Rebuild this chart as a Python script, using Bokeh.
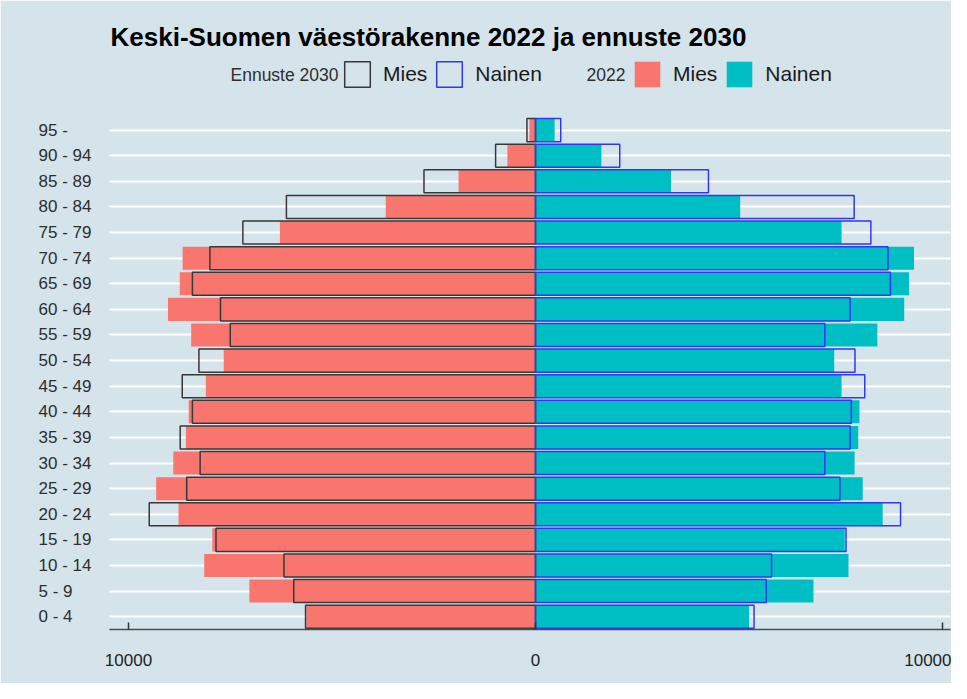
import numpy as np
from bokeh.plotting import figure
from bokeh.models import (ColumnDataSource, Legend, LegendItem, Label, LabelSet,
                          BoxAnnotation, FixedTicker, Range1d)
from bokeh.core.properties import value
from bokeh.embed import file_html
from bokeh.resources import INLINE

# ---- data ----
ages = ["0 - 4", "5 - 9", "10 - 14", "15 - 19", "20 - 24", "25 - 29", "30 - 34",
        "35 - 39", "40 - 44", "45 - 49", "50 - 54", "55 - 59", "60 - 64", "65 - 69",
        "70 - 74", "75 - 79", "80 - 84", "85 - 89", "90 - 94", "95 -"]

mies_2022 = [5630, 7030, 8140, 7940, 8770, 9320, 8900, 8590, 8520, 8100,
             7660, 8460, 9030, 8740, 8670, 6280, 3680, 1890, 690, 150]
nainen_2022 = [5250, 6830, 7690, 7600, 8530, 8040, 7840, 7930, 7960, 7520,
               7340, 8400, 9060, 9180, 9300, 7520, 5030, 3330, 1620, 470]
mies_2030 = [5650, 5940, 6180, 7850, 9490, 8570, 8240, 8730, 8430, 8680,
             8270, 7500, 7740, 8430, 8000, 7190, 6120, 2740, 980, 210]
nainen_2030 = [5370, 5670, 5800, 7630, 8970, 7480, 7110, 7730, 7760, 8090,
               7850, 7110, 7730, 8720, 8660, 8240, 7830, 4250, 2070, 620]

x_ticks = [-10000, 0, 10000]
x_tick_labels = ["10000", "0", "10000"]

title_text = "Keski-Suomen väestörakenne 2022 ja ennuste 2030"
legend_title_2030 = "Ennuste 2030"
legend_title_2022 = "2022"
sex_labels = ["Mies", "Nainen"]

# ---- styling / layout ----
BG = "#d5e3eb"
FONT = "Liberation Sans"
RED = "#F8766D"
TEAL = "#00BFC4"
PANEL_X = (-10467, 10197)      # extent of the bar panel (axis line, grid lines)
LABEL_SPACE_X = -12408         # frame extends left to hold the category labels

ypos = list(range(len(ages)))
src = ColumnDataSource(dict(
    y=ypos, age=ages,
    m22=[-v for v in mies_2022], n22=nainen_2022,
    m30=[-v for v in mies_2030], n30=nainen_2030,
))

p = figure(frame_width=920, frame_height=573,
           x_range=Range1d(LABEL_SPACE_X, PANEL_X[1]), y_range=Range1d(-0.5, 21.875),
           output_backend="svg", toolbar_location=None,
           min_border_left=30, min_border_right=1, min_border_top=56,
           min_border_bottom=54,
           background_fill_color=BG, border_fill_color=BG,
           outline_line_color=BG, outline_line_width=2, title=title_text)

p.title.text_font = FONT
p.title.text_font_size = "26px"
p.title.text_font_style = "bold"
p.title.text_color = "black"
p.title.align = "left"
p.title.offset = 80

# grids, masked outside the bar panel
p.xgrid.visible = False
p.ygrid.ticker = FixedTicker(ticks=ypos)
p.ygrid.grid_line_color = "white"
p.ygrid.grid_line_width = 2
p.add_layout(BoxAnnotation(right=PANEL_X[0], fill_color=BG, fill_alpha=1,
                           line_color=None, level="glyph"))

r_m22 = p.hbar(y="y", left="m22", right=0, height=0.9, source=src,
               fill_color=RED, line_color=None)
r_n22 = p.hbar(y="y", left=0, right="n22", height=0.9, source=src,
               fill_color=TEAL, line_color=None)
r_m30 = p.hbar(y="y", left="m30", right=0, height=0.9, source=src,
               fill_color=None, line_color="#383838", line_width=1.5)
r_n30 = p.hbar(y="y", left=0, right="n30", height=0.9, source=src,
               fill_color=None, line_color="#3535f5", line_width=1.5)

# y axis hidden; category labels left aligned as in the reference
p.yaxis.visible = False
p.add_layout(LabelSet(x=8, y="y", text="age", x_units="screen", source=src,
                      text_align="left", text_baseline="middle",
                      text_font=value(FONT), text_font_size="17px",
                      text_color="#2e2e2e"))

# x axis
p.xaxis.bounds = PANEL_X
p.xaxis.ticker = FixedTicker(ticks=x_ticks)
p.xaxis.major_label_overrides = {t: l for t, l in zip(x_ticks, x_tick_labels)}
p.xaxis.axis_line_color = "#4d4d4d"
p.xaxis.axis_line_width = 1.5
p.xaxis.major_tick_in = 7
p.xaxis.major_tick_out = 0
p.xaxis.major_tick_line_color = "#333333"
p.xaxis.major_tick_line_width = 1.5
p.xaxis.minor_tick_line_color = None
p.xaxis.major_label_text_font = FONT
p.xaxis.major_label_text_font_size = "17px"
p.xaxis.major_label_text_color = "#222222"
p.xaxis.major_label_standoff = 24

def make_legend(items, loc):
    return Legend(items=items, orientation="horizontal", location=loc,
                  padding=0, margin=0, spacing=6, label_standoff=10,
                  glyph_width=32, glyph_height=32,
                  border_line_color=None, background_fill_alpha=0,
                  label_text_font=FONT, label_text_font_size="21px",
                  label_text_color="#1a1a1a")

leg30 = make_legend([LegendItem(label=sex_labels[0], renderers=[r_m30]),
                     LegendItem(label=sex_labels[1], renderers=[r_n30])], (311, 539))
leg22 = make_legend([LegendItem(label=sex_labels[0], renderers=[r_m22]),
                     LegendItem(label=sex_labels[1], renderers=[r_n22])], (601, 539))
p.add_layout(leg30)
p.add_layout(leg22)

for txt, xx in [(legend_title_2030, 200), (legend_title_2022, 556)]:
    p.add_layout(Label(x=xx, y=555, x_units="screen", y_units="screen", text=txt,
                       text_font=FONT, text_font_size="17.5px",
                       text_baseline="middle", text_align="left",
                       text_color="#2e2e2e"))

open("out.html", "w").write(file_html(p, INLINE))
